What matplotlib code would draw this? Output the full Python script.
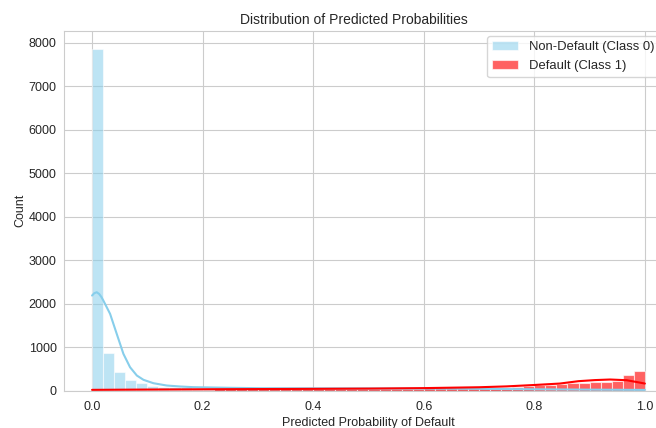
import numpy as np
import matplotlib
matplotlib.use("Agg")
import matplotlib.pyplot as plt
import seaborn as sns

sns.set_style("whitegrid")
plt.rcParams['font.family'] = ['Liberation Sans', 'DejaVu Sans']

# ---- data ----
bin_edges = np.linspace(0, 1, 51)

nondefault_counts = [7850, 867, 430, 246, 168, 115, 85, 76, 70, 66,
                     63, 61, 60, 58, 57, 56, 55, 54, 53, 53,
                     52, 52, 51, 50, 50, 49, 49, 48, 48, 47,
                     46, 45, 44, 42, 40, 38, 35, 32, 29, 26,
                     23, 21, 19, 18, 17, 16, 15, 14, 13, 12]

default_counts = [22, 17, 15, 15, 16, 18, 19, 20, 21, 22,
                  23, 24, 25, 26, 27, 28, 29, 30, 31, 32,
                  33, 34, 35, 36, 37, 38, 39, 41, 43, 45,
                  47, 50, 53, 56, 60, 50, 55, 62, 85, 101,
                  124, 138, 154, 169, 184, 200, 207, 223, 354, 453]

kde0_x = [0.0, 0.004, 0.0085, 0.013, 0.017, 0.0204, 0.0326, 0.0446, 0.0567,
          0.0687, 0.081, 0.093, 0.111, 0.135, 0.16, 0.183, 0.25, 0.304,
          0.4, 0.5, 0.6, 0.7, 0.8, 0.9, 1.0]
kde0_y = [2186, 2240, 2262, 2220, 2150, 2071, 1765, 1305, 844,
          536, 345, 246, 168, 115, 92, 77, 62, 53,
          50, 48, 45, 38, 28, 20, 14]

kde1_x = [0.0, 0.1, 0.2, 0.3, 0.4, 0.5, 0.6, 0.7, 0.75, 0.8, 0.846,
          0.88, 0.91, 0.937, 0.967, 0.993, 1.0]
kde1_y = [15, 22, 28, 33, 38, 44, 55, 75, 95, 127, 160,
          215, 240, 253, 237, 177, 160]

labels = ["Non-Default (Class 0)", "Default (Class 1)"]
title = "Distribution of Predicted Probabilities"
xlabel = "Predicted Probability of Default"
ylabel = "Count"

# ---- plot ----
fig = plt.figure(figsize=(6.56, 4.28), dpi=100)
ax = fig.add_axes([0.0982, 0.0876, 0.927, 0.840])

centers = (bin_edges[:-1] + bin_edges[1:]) / 2
ax.hist(centers, bins=bin_edges, weights=nondefault_counts, color='skyblue',
        alpha=0.55, edgecolor='white', linewidth=0.8, label=labels[0])
ax.hist(centers, bins=bin_edges, weights=default_counts, color='red',
        alpha=0.62, edgecolor='white', linewidth=0.8, label=labels[1])
ax.plot(kde0_x, kde0_y, color='skyblue', linewidth=1.5)
ax.plot(kde1_x, kde1_y, color='red', linewidth=1.5)

ax.set_xlim(-0.05, 1.05)
ax.set_ylim(0, 8276)
ax.set_yticks(np.arange(0, 8001, 1000))
ax.set_xticks(np.arange(0, 1.01, 0.2))
ax.set_title(title, fontsize=10, pad=5, x=0.4755)
ax.set_xlabel(xlabel, fontsize=9, labelpad=3)
ax.set_ylabel(ylabel, fontsize=9, labelpad=2)
ax.tick_params(axis='x', labelsize=9, pad=4)
ax.tick_params(axis='y', labelsize=9, pad=2)
ax.legend(loc='upper left', fontsize=9.4, bbox_to_anchor=(487 / 656, 1 - 36 / 428),
          bbox_transform=fig.transFigure, borderaxespad=0)

fig.savefig("out.png", dpi=100)
